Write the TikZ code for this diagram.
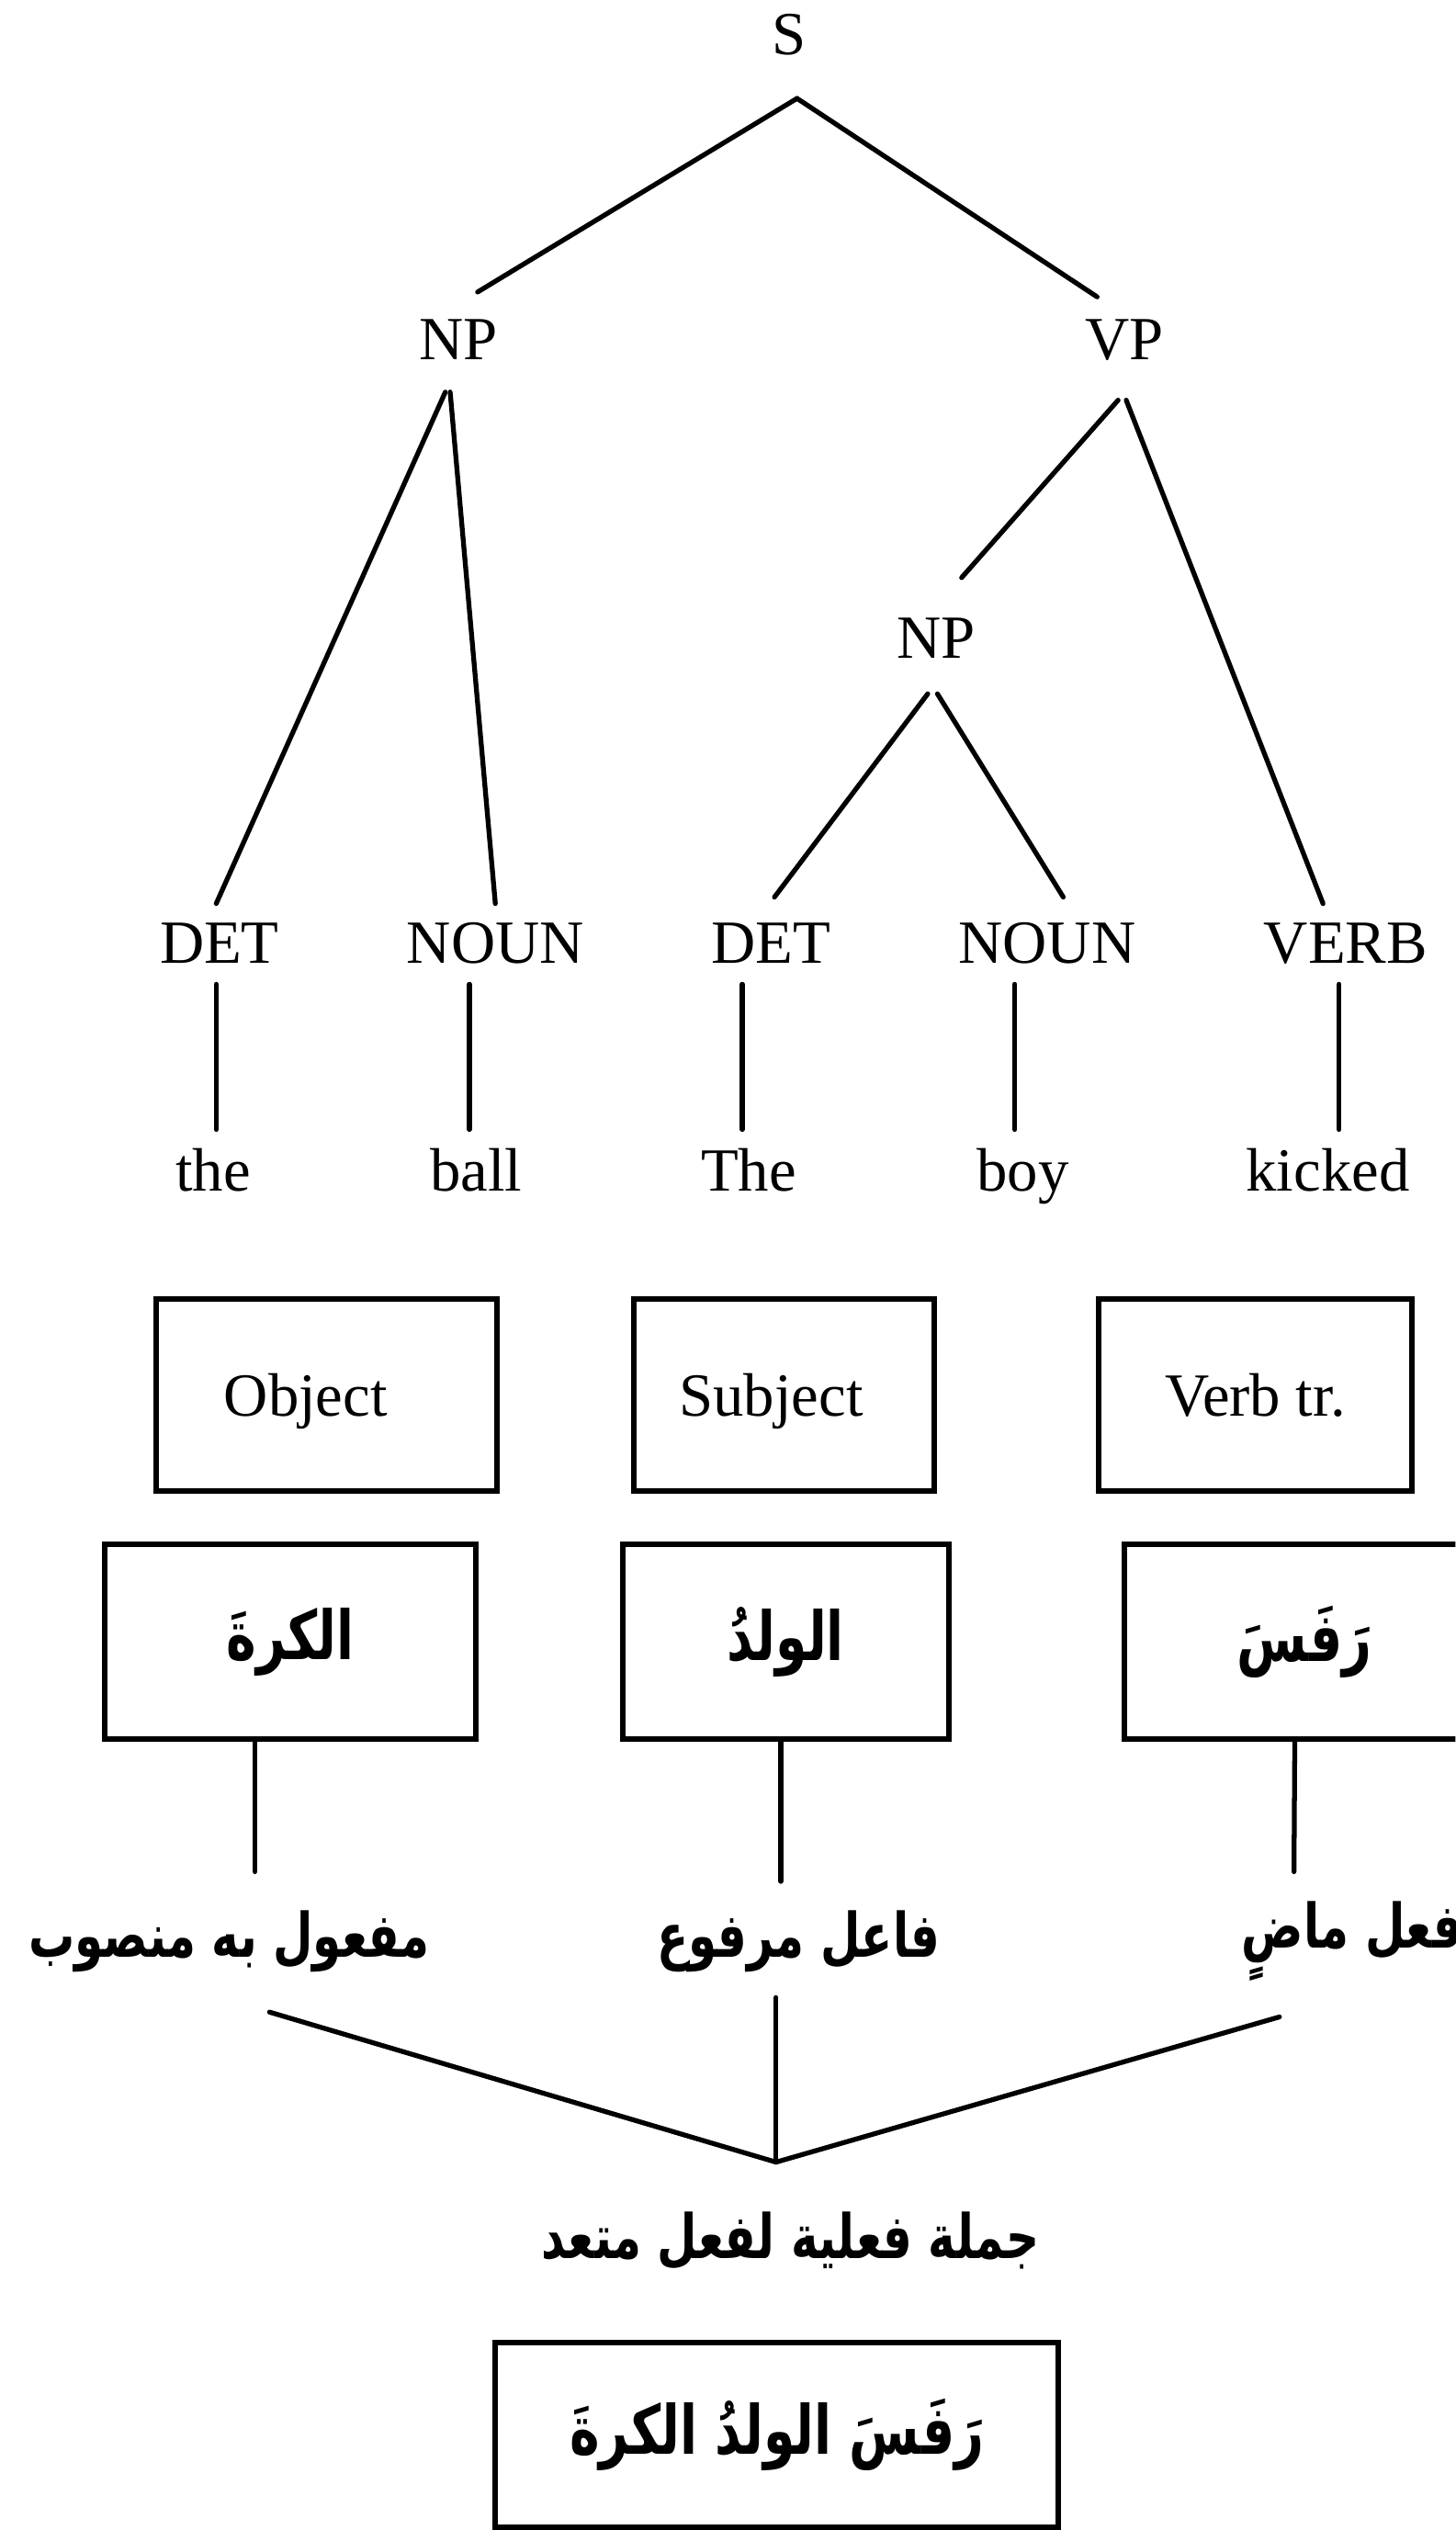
\documentclass[tikz,border=0pt]{standalone}
\usepackage{fontspec}
\setmainfont{Liberation Serif}
\newfontfamily\arabicfont[Script=Arabic, FakeStretch=0.75]{DejaVu Sans}
\TeXXeTstate=1
\usetikzlibrary{calc, positioning}

\begin{document}
\begin{tikzpicture}[x=0.5pt, y=-0.5pt,
    cat/.style={font=\fontsize{19}{23}\selectfont, inner sep=0pt, anchor=base},
    branch/.style={line width=1.5pt, line cap=round},
    box/.style={draw, line width=1.7pt, inner sep=0pt, minimum height=59.5pt,
                font=\fontsize{19}{23}\selectfont, text height=13pt, text depth=0pt},
    arbox/.style={draw, line width=1.7pt, inner sep=0pt, minimum height=60.5pt,
                font=\arabicfont\bfseries\fontsize{21}{25}\selectfont},
    ar/.style={font=\arabicfont\bfseries\fontsize{19}{23}\selectfont, inner sep=0pt}]
    \useasboundingbox (0,0) rectangle (902,1568);
    \clip (0,0) rectangle (902,1568);

    % phrase structure tree
    \node[cat] (s)   at (489,34)  {S};
    \node[cat] (np)  at (284,223) {NP};
    \node[cat] (vp)  at (697,223) {VP};
    \node[cat] (npb) at (580,408) {NP};

    \node[cat] (detA)  at (136,597) {DET};
    \node[cat] (nounA) at (307,597) {NOUN};
    \node[cat] (detB)  at (478,597) {DET};
    \node[cat] (nounB) at (649,597) {NOUN};
    \node[cat] (verb)  at (834,597) {VERB};

    \node[cat] (wthe)    at (132,738) {the};
    \node[cat] (wball)   at (295,738) {ball};
    \node[cat] (wThe)    at (464,738) {The};
    \node[cat] (wboy)    at (634,738) {boy};
    \node[cat] (wkicked) at (823,738) {kicked};

    \draw[branch] ($(s.base)+(5,27)$) -- ($(np.base)+(12,-42)$);
    \draw[branch] ($(s.base)+(5,27)$) -- ($(vp.base)+(-17,-39)$);
    \draw[branch] ($(np.base)+(-8,20)$) -- ($(detA.base)+(-2,-37)$);
    \draw[branch] ($(np.base)+(-5,20)$) -- ($(nounA.base)+(0,-37)$);
    \draw[branch] ($(vp.base)+(-4,25)$) -- ($(npb.base)+(16,-50)$);
    \draw[branch] ($(vp.base)+(1,25)$) -- ($(verb.base)+(-14,-37)$);
    \draw[branch] ($(npb.base)+(-5,22)$) -- ($(detB.base)+(2,-41)$);
    \draw[branch] ($(npb.base)+(1,22)$) -- ($(nounB.base)+(10,-41)$);

    % stems down to the words
    \draw[branch] ($(detA.base)+(-2,13)$) -- ($(wthe.base)+(2,-38)$);
    \draw[branch] ($(nounA.base)+(-16,13)$) -- ($(wball.base)+(-4,-38)$);
    \draw[branch] ($(detB.base)+(-18,13)$) -- ($(wThe.base)+(-4,-38)$);
    \draw[branch] ($(nounB.base)+(-20,13)$) -- ($(wboy.base)+(-5,-38)$);
    \draw[branch] ($(verb.base)+(-4,13)$) -- ($(wkicked.base)+(7,-38)$);

    % functions
    \node[box, minimum width=105.5pt] (objbox)  at (202.5,864.5) {Object\hspace*{13pt}};
    \node[box, minimum width=93pt]    (subjbox) at (486,864.5)   {Subject\hspace*{8pt}};
    \node[box, minimum width=97pt]    (verbbox) at (778,864.5)   {Verb tr.};

    \node[arbox, minimum width=115pt]   (arobj)  at (180,1017.5)   {\beginR الكرةَ\endR};
    \node[arbox, minimum width=101pt]   (arsubj) at (487,1017.5)   {\beginR الولدُ\endR};
    \node[arbox, minimum width=111.5pt] (arverb) at (808.5,1017.5) {\beginR رَفَسَ\endR};

    \node[ar] (lobj)  at (142,1203) {\beginR مفعول به منصوب\endR};
    \node[ar] (lsubj) at (495,1203) {\beginR فاعل مرفوع\endR};
    \node[ar] (lverb) at (838,1203) {\beginR فعل ماضٍ\endR};

    \draw[branch] ($(arobj.south)+(-22,0)$) -- ($(lobj.center)+(16,-43)$);
    \draw[branch] ($(arsubj.south)+(-3,0)$) -- ($(lsubj.center)+(-11,-37)$);
    \draw[branch] ($(arverb.south)+(-6,0)$) -- ($(lverb.center)+(-36,-43)$);

    % joining into the sentence
    \coordinate (join) at (481,1340);
    \draw[branch] ($(lobj.center)+(25,44)$) -- (join);
    \draw[branch] ($(lsubj.center)+(-14,35)$) -- (join);
    \draw[branch] ($(lverb.center)+(-45,47)$) -- (join);

    \node[ar] (jumla) at (490,1389) {\beginR جملة فعلية لفعل متعد\endR};
    \node[arbox, minimum width=174.5pt, minimum height=57pt] (sentence) at (481.5,1509)
        {\beginR رَفَسَ الولدُ الكرةَ\endR};
\end{tikzpicture}
\end{document}
